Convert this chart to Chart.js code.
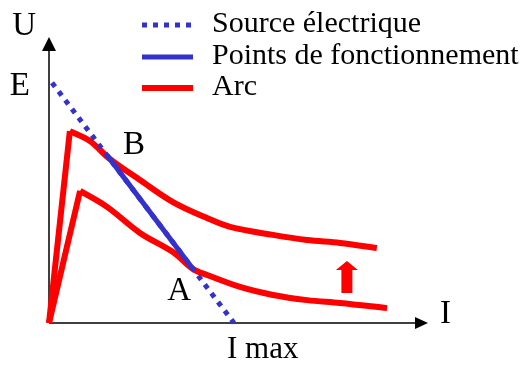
<!DOCTYPE html>
<html>
<head>
<meta charset="utf-8">
<script src="https://cdn.jsdelivr.net/npm/chart.js@4"></script>
<style>
  html, body { margin: 0; padding: 0; background: #fff; }
  #wrap { width: 529px; height: 365px; }
</style>
</head>
<body>
<div id="wrap"><canvas id="c" width="529" height="365"></canvas></div>
<script>
// Caractéristique U(I) de la source et deux caractéristiques d'arc
const E = 8.4;          // tension à vide
const Imax = 4.88;      // courant de court-circuit

const sourceI = [0.08, Imax];
const sourceU = [E, 0];

// Points de fonctionnement B (haut) et A (bas)
const pointsI = [1.53, 3.80];
const pointsU = [5.87, 1.89];

// Arc, courbe haute (le 2e point est le sommet)
const arcHautI = [0, 0.55, 1.08, 1.61, 2.40, 3.27, 4.17, 4.78, 5.91, 6.81, 7.68, 8.65];
const arcHautU = [0, 6.71, 6.36, 5.73, 5.00, 4.23, 3.67, 3.36, 3.08, 2.90, 2.80, 2.62];

// Arc, courbe basse (le 2e point est le sommet)
const arcBasI = [0, 0.82, 1.53, 2.40, 3.27, 3.80, 4.17, 5.04, 5.91, 6.81, 7.68, 8.92];
const arcBasU = [0, 4.62, 4.06, 3.15, 2.48, 1.89, 1.68, 1.26, 0.98, 0.80, 0.70, 0.52];

// Flèche de passage d'une courbe à l'autre
const flecheI = 7.86;
const flecheU = [1.05, 2.17];

const legendLabels = ['Source électrique', 'Points de fonctionnement', 'Arc'];

const BLEU = '#3333cc';
const ROUGE = '#ff0000';
const police = (taille) => taille + 'px "Liberation Serif"';

const toXY = (xs, ys) => xs.map((x, i) => ({ x: x, y: ys[i] }));

// Axes fléchés et annotations
const axesPlugin = {
  id: 'axesFleches',
  beforeDatasetsDraw(chart) {
    const { ctx, scales: { x, y } } = chart;
    const x0 = x.getPixelForValue(0), y0 = y.getPixelForValue(0);
    const xEnd = x.getPixelForValue(x.max), yTop = y.getPixelForValue(y.max);
    ctx.save();
    ctx.strokeStyle = '#000';
    ctx.fillStyle = '#000';
    ctx.lineWidth = 1.5;
    ctx.beginPath();
    ctx.moveTo(x0, y0); ctx.lineTo(x0, yTop + 10);
    ctx.moveTo(x0, y0); ctx.lineTo(xEnd - 10, y0);
    ctx.stroke();
    ctx.beginPath();
    ctx.moveTo(x0, yTop); ctx.lineTo(x0 - 7, yTop + 14); ctx.lineTo(x0 + 7, yTop + 14); ctx.closePath();
    ctx.fill();
    ctx.beginPath();
    ctx.moveTo(xEnd, y0); ctx.lineTo(xEnd - 13, y0 - 6); ctx.lineTo(xEnd - 13, y0 + 6); ctx.closePath();
    ctx.fill();
    ctx.restore();
  },
  afterDraw(chart) {
    const { ctx, scales: { x, y } } = chart;
    const x0 = x.getPixelForValue(0), y0 = y.getPixelForValue(0);
    const xEnd = x.getPixelForValue(x.max), yTop = y.getPixelForValue(y.max);
    ctx.save();
    ctx.fillStyle = '#000';
    ctx.textBaseline = 'alphabetic';
    ctx.font = police(33);
    ctx.textAlign = 'right';
    ctx.fillText('U', x0 - 13, yTop - 2);
    ctx.fillText('E', x0 - 19, y.getPixelForValue(E) + 12);
    const xA = x.getPixelForValue(pointsI[1]), yA = y.getPixelForValue(pointsU[1]);
    ctx.fillText('A', xA - 2, yA + 31);
    ctx.textAlign = 'left';
    const xB = x.getPixelForValue(pointsI[0]), yB = y.getPixelForValue(pointsU[0]);
    ctx.fillText('B', xB + 16, yB - 1);
    ctx.fillText('I', xEnd + 12, y0);
    ctx.font = police(31);
    ctx.fillText('I max', x.getPixelForValue(Imax) - 7, y0 + 35);

    // flèche rouge
    const fx = x.getPixelForValue(flecheI);
    const fb = y.getPixelForValue(flecheU[0]), ft = y.getPixelForValue(flecheU[1]);
    ctx.fillStyle = ROUGE;
    ctx.beginPath();
    ctx.moveTo(fx - 5.5, fb);
    ctx.lineTo(fx - 5.5, ft + 9);
    ctx.lineTo(fx - 11, ft + 9);
    ctx.lineTo(fx, ft);
    ctx.lineTo(fx + 11, ft + 9);
    ctx.lineTo(fx + 5.5, ft + 9);
    ctx.lineTo(fx + 5.5, fb);
    ctx.closePath();
    ctx.fill();

    // légende
    ctx.font = police(30);
    ctx.textAlign = 'left';
    const rows = [25, 57, 88];
    const samples = [chart.data.datasets[0], chart.data.datasets[1], chart.data.datasets[2]];
    legendLabels.forEach((lab, i) => {
      const ds = samples[i];
      ctx.save();
      ctx.strokeStyle = ds.borderColor;
      ctx.lineWidth = ds.borderWidth;
      ctx.setLineDash(ds.borderDash || []);
      ctx.lineCap = 'butt';
      ctx.beginPath();
      ctx.moveTo(142, rows[i]);
      ctx.lineTo(193, rows[i]);
      ctx.stroke();
      ctx.restore();
      ctx.fillStyle = '#000';
      ctx.fillText(lab, 212, rows[i] + 7);
    });
    ctx.restore();
  }
};

// Montée raide jusqu'au sommet, puis décroissance lissée
const arcMontee = (xs, ys) => ({
  label: legendLabels[2], data: toXY(xs.slice(0, 2), ys.slice(0, 2)), showLine: true,
  borderColor: ROUGE, borderWidth: 6, pointRadius: 0, clip: false, tension: 0
});
const arcDescente = (xs, ys) => ({
  label: legendLabels[2], data: toXY(xs.slice(1), ys.slice(1)), showLine: true,
  borderColor: ROUGE, borderWidth: 6, pointRadius: 0, clip: false, tension: 0.35
});

new Chart(document.getElementById('c'), {
  type: 'scatter',
  data: {
    datasets: [
      { label: legendLabels[0], data: toXY(sourceI, sourceU), showLine: true,
        borderColor: BLEU, borderWidth: 5, borderDash: [5, 6], pointRadius: 0, clip: false },
      { label: legendLabels[1], data: toXY(pointsI, pointsU), showLine: true,
        borderColor: BLEU, borderWidth: 5, pointRadius: 0, clip: false },
      arcDescente(arcHautI, arcHautU),
      arcMontee(arcHautI, arcHautU),
      arcDescente(arcBasI, arcBasU),
      arcMontee(arcBasI, arcBasU)
    ]
  },
  options: {
    responsive: false,
    animation: false,
    layout: { padding: { left: 49, right: 101, top: 37, bottom: 42 } },
    scales: {
      x: { type: 'linear', min: 0, max: 10, display: false },
      y: { type: 'linear', min: 0, max: 10, display: false }
    },
    plugins: { legend: { display: false }, tooltip: { enabled: false } }
  },
  plugins: [axesPlugin]
});
</script>
</body>
</html>
